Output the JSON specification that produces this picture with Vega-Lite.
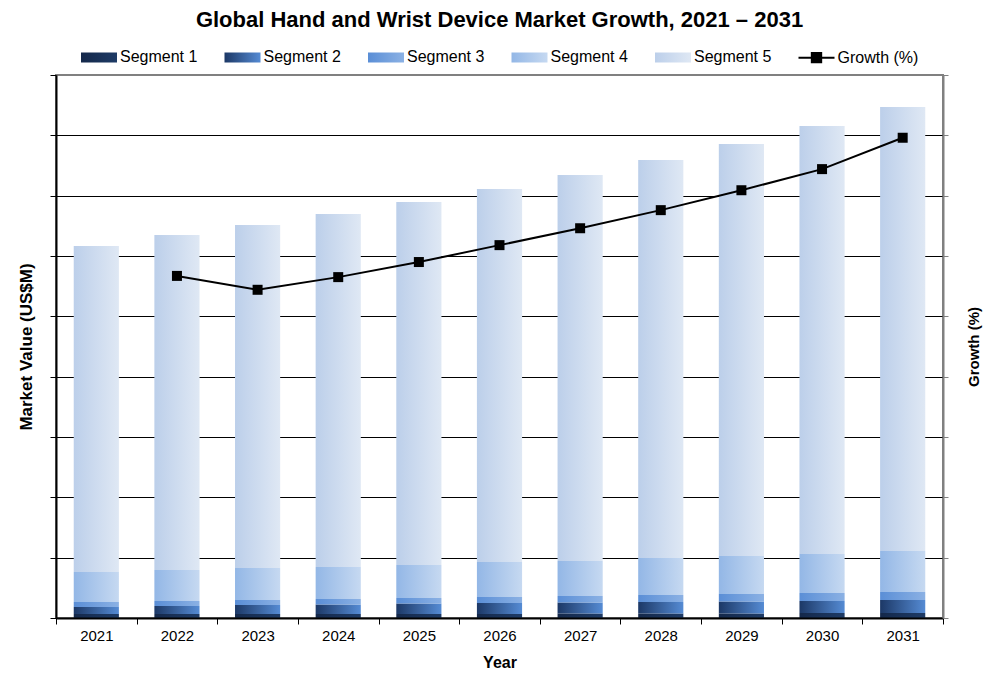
{
  "$schema": "https://vega.github.io/schema/vega-lite/v6.json",
  "width": 887,
  "height": 543,
  "autosize": "none",
  "padding": {"left": 56, "top": 75, "right": 54, "bottom": 59},
  "background": "white",
  "title": {
    "text": "Global Hand and Wrist Device Market Growth, 2021 – 2031",
    "fontSize": 22,
    "fontWeight": "bold",
    "font": "Liberation Sans",
    "color": "black",
    "anchor": "middle",
    "offset": 6
  },
  "datasets": {
    "market": [
      {"year": "2021", "segment": "Segment 1", "value": 6.6},
      {"year": "2021", "segment": "Segment 2", "value": 11.6},
      {"year": "2021", "segment": "Segment 3", "value": 8.3},
      {"year": "2021", "segment": "Segment 4", "value": 49.7},
      {"year": "2021", "segment": "Segment 5", "value": 540.3},
      {"year": "2022", "segment": "Segment 1", "value": 6.6},
      {"year": "2022", "segment": "Segment 2", "value": 13.3},
      {"year": "2022", "segment": "Segment 3", "value": 8.3},
      {"year": "2022", "segment": "Segment 4", "value": 51.4},
      {"year": "2022", "segment": "Segment 5", "value": 555.3},
      {"year": "2023", "segment": "Segment 1", "value": 6.6},
      {"year": "2023", "segment": "Segment 2", "value": 14.9},
      {"year": "2023", "segment": "Segment 3", "value": 8.3},
      {"year": "2023", "segment": "Segment 4", "value": 53.0},
      {"year": "2023", "segment": "Segment 5", "value": 568.5},
      {"year": "2024", "segment": "Segment 1", "value": 6.6},
      {"year": "2024", "segment": "Segment 2", "value": 15.7},
      {"year": "2024", "segment": "Segment 3", "value": 9.1},
      {"year": "2024", "segment": "Segment 4", "value": 53.0},
      {"year": "2024", "segment": "Segment 5", "value": 585.1},
      {"year": "2025", "segment": "Segment 1", "value": 6.6},
      {"year": "2025", "segment": "Segment 2", "value": 17.4},
      {"year": "2025", "segment": "Segment 3", "value": 9.1},
      {"year": "2025", "segment": "Segment 4", "value": 54.7},
      {"year": "2025", "segment": "Segment 5", "value": 601.7},
      {"year": "2026", "segment": "Segment 1", "value": 6.6},
      {"year": "2026", "segment": "Segment 2", "value": 18.2},
      {"year": "2026", "segment": "Segment 3", "value": 9.9},
      {"year": "2026", "segment": "Segment 4", "value": 58.0},
      {"year": "2026", "segment": "Segment 5", "value": 618.2},
      {"year": "2027", "segment": "Segment 1", "value": 7.5},
      {"year": "2027", "segment": "Segment 2", "value": 18.2},
      {"year": "2027", "segment": "Segment 3", "value": 10.8},
      {"year": "2027", "segment": "Segment 4", "value": 58.0},
      {"year": "2027", "segment": "Segment 5", "value": 639.8},
      {"year": "2028", "segment": "Segment 1", "value": 7.5},
      {"year": "2028", "segment": "Segment 2", "value": 19.1},
      {"year": "2028", "segment": "Segment 3", "value": 11.6},
      {"year": "2028", "segment": "Segment 4", "value": 61.3},
      {"year": "2028", "segment": "Segment 5", "value": 659.7},
      {"year": "2029", "segment": "Segment 1", "value": 7.5},
      {"year": "2029", "segment": "Segment 2", "value": 19.9},
      {"year": "2029", "segment": "Segment 3", "value": 12.4},
      {"year": "2029", "segment": "Segment 4", "value": 63.0},
      {"year": "2029", "segment": "Segment 5", "value": 682.9},
      {"year": "2030", "segment": "Segment 1", "value": 8.3},
      {"year": "2030", "segment": "Segment 2", "value": 19.9},
      {"year": "2030", "segment": "Segment 3", "value": 13.3},
      {"year": "2030", "segment": "Segment 4", "value": 64.6},
      {"year": "2030", "segment": "Segment 5", "value": 709.4},
      {"year": "2031", "segment": "Segment 1", "value": 8.3},
      {"year": "2031", "segment": "Segment 2", "value": 21.5},
      {"year": "2031", "segment": "Segment 3", "value": 13.3},
      {"year": "2031", "segment": "Segment 4", "value": 68.0},
      {"year": "2031", "segment": "Segment 5", "value": 735.9}
    ],
    "growth": [
      {"year": "2022", "growth": 5.67},
      {"year": "2023", "growth": 5.44},
      {"year": "2024", "growth": 5.65},
      {"year": "2025", "growth": 5.90},
      {"year": "2026", "growth": 6.18},
      {"year": "2027", "growth": 6.46},
      {"year": "2028", "growth": 6.76},
      {"year": "2029", "growth": 7.09},
      {"year": "2030", "growth": 7.44},
      {"year": "2031", "growth": 7.96}
    ]
  },
  "encoding": {
    "x": {
      "field": "year",
      "type": "nominal",
      "scale": {"paddingInner": 0, "paddingOuter": 0},
      "axis": {
        "title": "Year",
        "titleFontSize": 16,
        "titleFontWeight": "bold",
        "titlePadding": 11,
        "labelAngle": 0,
        "labelFontSize": 15,
        "labelPadding": 4,
        "tickBand": "extent",
        "tickSize": 6,
        "tickColor": "black",
        "domainColor": "black",
        "domainWidth": 2,
        "zindex": 1
      }
    }
  },
  "layer": [
    {
      "data": {"name": "market"},
      "mark": {"type": "bar", "width": {"band": 0.56}},
      "encoding": {
        "y": {
          "field": "value",
          "type": "quantitative",
          "stack": "zero",
          "scale": {"domain": [0, 900], "nice": false},
          "axis": {
            "title": "Market Value (US$M)",
            "titleFontSize": 17,
            "titleFontWeight": "bold",
            "titlePadding": 14,
            "labels": false,
            "values": [0, 100, 200, 300, 400, 500, 600, 700, 800, 900],
            "tickSize": 6,
            "tickColor": "black",
            "domainColor": "black",
            "domainWidth": 2,
            "grid": true,
            "gridColor": {"condition": {"test": "datum.value === 0 || datum.value === 900", "value": "transparent"}, "value": "black"},
            "gridWidth": 1,
            "zindex": 0
          }
        },
        "order": {"field": "segment", "type": "ordinal", "sort": "ascending"},
        "color": {
          "field": "segment",
          "type": "nominal",
          "scale": {
            "domain": ["Segment 1", "Segment 2", "Segment 3", "Segment 4", "Segment 5", "Growth (%)"],
            "range": [
              {"expr": "{gradient: 'linear', stops: [{offset: 0, color: '#14284a'}, {offset: 1, color: '#1e3b66'}]}"},
              {"expr": "{gradient: 'linear', stops: [{offset: 0, color: '#1c3866'}, {offset: 1, color: '#558bd4'}]}"},
              {"expr": "{gradient: 'linear', stops: [{offset: 0, color: '#5a8ed6'}, {offset: 1, color: '#8bb1e4'}]}"},
              {"expr": "{gradient: 'linear', stops: [{offset: 0, color: '#93b7e6'}, {offset: 1, color: '#c6d9f1'}]}"},
              {"expr": "{gradient: 'linear', stops: [{offset: 0, color: '#bccfea'}, {offset: 1, color: '#dfe8f4'}]}"},
              "black"
            ]
          },
          "legend": {
            "title": null,
            "orient": "none",
            "legendX": 24,
            "legendY": -37,
            "direction": "horizontal",
            "columns": 6,
            "symbolType": "M-1,-0.28H1V0.28H-1Z",
            "symbolSize": 1296,
            "labelFontSize": 16,
            "labelOffset": 2,
            "columnPadding": 22.5,
            "encode": {
              "symbols": {
                "update": {
                  "shape": {"signal": "datum.value === 'Growth (%)' ? 'M-1,0H1M-0.26,-0.26H0.26V0.26H-0.26Z' : 'M-1,-0.28H1V0.28H-1Z'"},
                  "stroke": {"signal": "datum.value === 'Growth (%)' ? 'black' : 'transparent'"},
                  "strokeWidth": {"value": 2}
                }
              }
            }
          }
        }
      }
    },
    {
      "data": {"name": "growth"},
      "mark": {
        "type": "line",
        "color": "black",
        "strokeWidth": 2,
        "point": {"shape": "square", "size": 100, "filled": true, "color": "black", "opacity": 1}
      },
      "encoding": {
        "y": {
          "field": "growth",
          "type": "quantitative",
          "scale": {"domain": [0, 9], "nice": false},
          "axis": {
            "orient": "right",
            "title": "Growth (%)",
            "titleAngle": 270,
            "titleFontSize": 15,
            "titleFontWeight": "bold",
            "titlePadding": 33,
            "labels": false,
            "values": [0, 1, 2, 3, 4, 5, 6, 7, 8, 9],
            "tickSize": 5,
            "tickColor": "#808080",
            "domainColor": "#808080",
            "domainWidth": 2,
            "grid": false,
            "zindex": 1
          }
        }
      }
    }
  ],
  "resolve": {"scale": {"y": "independent"}},
  "config": {
    "font": "Liberation Sans",
    "view": {"stroke": "#808080", "strokeWidth": 2},
    "axis": {"labelColor": "black", "titleColor": "black"},
    "legend": {"labelColor": "black", "labelFont": "Liberation Sans"}
  }
}
